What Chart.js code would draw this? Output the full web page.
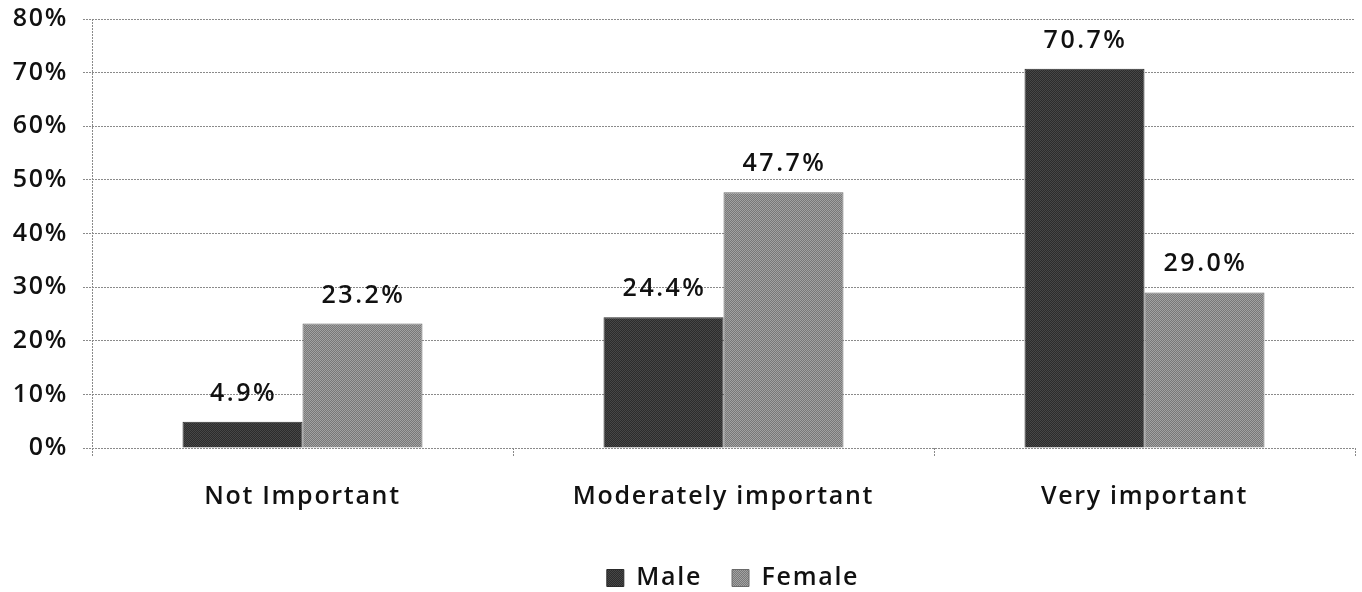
<!DOCTYPE html>
<html>
<head>
<meta charset="utf-8">
<script src="https://cdn.jsdelivr.net/npm/chart.js@4/dist/chart.umd.min.js"></script>
<style>
  html, body { margin: 0; padding: 0; background: #fff; }
  #wrap { width: 1362px; height: 592px; position: relative; }
</style>
</head>
<body>
<div id="wrap"><canvas id="c" width="1362" height="592"></canvas></div>
<script>
const categories = ['Not Important', 'Moderately important', 'Very important'];
const maleValues = [4.9, 24.4, 70.7];
const femaleValues = [23.2, 47.7, 29.0];
const seriesNames = ['Male', 'Female'];
const yTicks = [0, 10, 20, 30, 40, 50, 60, 70, 80];

const FONT = '"Open Sans", "DejaVu Sans", sans-serif';
const SPACING = '1.7px';
const LEGEND_CENTER = { x: 733, y: 568 };

// Small dithered fill, like a halftone print of a grey
function dither(c1, c2) {
  const p = document.createElement('canvas');
  p.width = 2; p.height = 2;
  const g = p.getContext('2d');
  g.fillStyle = c1; g.fillRect(0, 0, 2, 2);
  g.fillStyle = c2; g.fillRect(0, 0, 1, 1); g.fillRect(1, 1, 1, 1);
  return g.createPattern(p, 'repeat');
}
const ctx = document.getElementById('c').getContext('2d');
const maleFill = dither('#2c2c2c', '#474747');
const femaleFill = dither('#787878', '#a2a2a2');

// Wider tracking for axis and legend text
const tracking = {
  id: 'tracking',
  beforeUpdate(chart) { chart.ctx.letterSpacing = SPACING; },
  beforeLayout(chart) { chart.ctx.letterSpacing = SPACING; },
  beforeDraw(chart) { chart.ctx.letterSpacing = SPACING; }
};

// Legend sits slightly right of centre, just above the bottom edge
const legendPlacement = {
  id: 'legendPlacement',
  afterLayout(chart) {
    const lg = chart.legend;
    if (!lg) return;
    const dx = LEGEND_CENTER.x - (lg.left + lg.right) / 2;
    const dy = LEGEND_CENTER.y - (lg.top + lg.bottom) / 2;
    lg.left += dx; lg.right += dx;
    lg.top += dy; lg.bottom += dy;
  }
};

// Value labels above each bar
const valueLabels = {
  id: 'valueLabels',
  afterDatasetsDraw(chart) {
    const c = chart.ctx;
    c.save();
    c.letterSpacing = '2.5px';
    c.font = '600 25px ' + FONT;
    c.fillStyle = '#111';
    c.textAlign = 'center';
    c.textBaseline = 'alphabetic';
    chart.data.datasets.forEach((ds, i) => {
      chart.getDatasetMeta(i).data.forEach((bar, j) => {
        c.fillText(ds.data[j].toFixed(1) + '%', bar.x + 1, bar.y - 21);
      });
    });
    c.restore();
  }
};

// Dotted frame line on the left and category tick marks under the baseline
const axisMarks = {
  id: 'axisMarks',
  beforeDatasetsDraw(chart) {
    const { ctx: c, chartArea: a } = chart;
    c.save();
    c.strokeStyle = '#8a8a8a';
    c.lineWidth = 1;
    c.setLineDash([2, 1]);
    c.beginPath();
    c.moveTo(a.left + 0.5, a.top);
    c.lineTo(a.left + 0.5, a.bottom + 8);
    const n = chart.data.labels.length;
    const w = (a.right - a.left) / n;
    for (let i = 1; i <= n; i++) {
      const x = Math.round(a.left + w * i) + 0.5;
      c.moveTo(x, a.bottom);
      c.lineTo(x, a.bottom + 8);
    }
    c.stroke();
    c.restore();
  }
};

new Chart(ctx, {
  type: 'bar',
  data: {
    labels: categories,
    datasets: [
      { label: seriesNames[0], data: maleValues, backgroundColor: maleFill, borderColor: '#2a2a2a', borderWidth: 1 },
      { label: seriesNames[1], data: femaleValues, backgroundColor: femaleFill, borderColor: '#6a6a6a', borderWidth: 1 }
    ]
  },
  options: {
    responsive: false,
    animation: false,
    layout: { padding: { top: 19, right: 7, left: 0, bottom: -11 } },
    datasets: { bar: { barPercentage: 1, categoryPercentage: 0.57 } },
    scales: {
      x: {
        grid: { display: false },
        border: { display: false },
        ticks: { color: '#111', font: { family: FONT, size: 25, weight: '600' }, padding: 26 }
      },
      y: {
        min: 0, max: 80,
        afterBuildTicks(axis) { axis.ticks = yTicks.map(v => ({ value: v })); },
        afterFit(axis) { axis.width = 92; },
        grid: { color: '#8a8a8a', lineWidth: 1, tickLength: 9, drawTicks: true, tickBorderDash: [2, 1] },
        border: { display: false, dash: [2, 1] },
        ticks: {
          color: '#111', padding: 15,
          font: { family: FONT, size: 25, weight: '600', lineHeight: 0.2 },
          callback: v => v + '%'
        }
      }
    },
    plugins: {
      legend: {
        position: 'bottom',
        labels: {
          color: '#111', boxWidth: 17, boxHeight: 17, padding: 30,
          font: { family: FONT, size: 25, weight: '600' }
        }
      },
      tooltip: { enabled: false }
    }
  },
  plugins: [tracking, legendPlacement, valueLabels, axisMarks]
});
</script>
</body>
</html>
